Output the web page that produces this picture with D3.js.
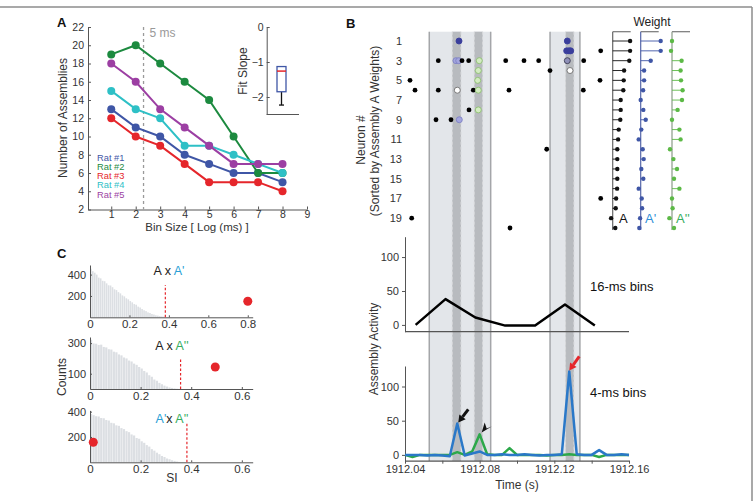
<!DOCTYPE html>
<html><head><meta charset="utf-8">
<script src="https://cdn.jsdelivr.net/npm/d3@7"></script>
<style>
body{margin:0;background:#fff;}
svg{display:block;}
</style></head><body>
<svg id="c" width="754" height="501"></svg>
<script>
// ================= DATA =================
// Panel A
const binSizes = [1,2,3,4,5,6,7,8];
const ratNames = ["Rat #1","Rat #2","Rat #3","Rat #4","Rat #5"];
const ratColors = ["#3f56a6","#1c8a3f","#e5262b","#2ec0c6","#9c3fa3"];
const rat1 = [13,11,10,8,7,6,6,5];
const rat2 = [19,20,18,16,14,10,6,6];
const rat3 = [12,10,9,7,5,5,5,4];
const rat4 = [15,13,12,9,9,8,7,6];
const rat5 = [18,16,13,11,9,7,7,7];
const xTicksA = [1,2,3,4,5,6,7,8,9];
const yTicksA = [2,4,6,8,10,12,14,16,18,20,22];
const cutoffBin = 2.32;          // "5 ms"
// inset: fit slope box plot [whiskerLow, q1, median, q3, whiskerHigh]
const slopeStats = [-2.23,-1.85,-1.26,-1.13,-1.13];
const slopeTicks = [0,-1,-2];

// Panel B raster
const neuronTickLabels = [1,3,5,7,9,11,13,15,17,19];
const spikeRows  = [1,1, 2,2,2,2, 3,3,3,3,3,3,3,3,3,3,3, 4,4,4, 5,5,5, 6,6,6,6,6,6,6, 8,8, 9,9,9, 12, 17, 19, 20];
const spikeTimes = [1912.06893,1912.12695,
  1912.12662,1912.12786,1912.12877,1912.14484,
  1912.05784,1912.06732,1912.06877,1912.07054,1912.07412,1912.07980,1912.09395,1912.10375,1912.11162,1912.12695,1912.13573,
  1912.07927,1912.11768,1912.12839,
  1912.04268,1912.07895,1912.14446,
  1912.04536,1912.05784,1912.06802,1912.07659,1912.07927,1912.09571,1912.13552,
  1912.07429,1912.07927,
  1912.05661,1912.06464,1912.06909,
  1912.11591, 1912.14484, 1912.04359, 1912.09625];
const spikeKinds = ["b","b", "b","b","b","k", "k","l","l","k","k","g","k","k","k","p","k",
  "g","k","w", "k","g","k", "k","k","w","k","g","k","k", "k","g", "k","k","l", "k","k","k","k"];
const lightBands = [[1912.0530,1912.0859],[1912.1177,1912.1337]];
const darkBands  = [[1912.0653,1912.0700],[1912.0771,1912.0816],[1912.1260,1912.1305]];

// Panel B weights (20 neurons)
const weightLabels = ["A","A'","A''"];
const weightA   = [.87,.87,.83,.57,.55,.53,.40,.40,.38,.30,.27,.23,.23,.23,.23,.22,.17,.15,-.08,.13];
const weightA1  = [1.0,1.0,.50,.17,.17,.12,0,.13,.25,.03,-.10,.10,.15,.03,.13,-.10,.05,.07,-.03,-.07];
const weightA2  = [0,-.05,.48,.43,.45,.53,.50,.28,0,.37,.43,-.10,.07,.25,.10,.37,0,.03,-.13,.10];

// Panel B activity
const times16 = [1912.0457,1912.0617,1912.0777,1912.0937,1912.1097,1912.1257,1912.1417];
const act16   = [0,38,11,-1,-1,30,-1];
const times4  = [1912.040,1912.044,1912.048,1912.052,1912.056,1912.060,1912.064,1912.068,1912.072,1912.076,
                 1912.080,1912.084,1912.088,1912.092,1912.096,1912.100,1912.104,1912.108,1912.112,1912.116,
                 1912.120,1912.124,1912.128,1912.132,1912.136,1912.140,1912.144,1912.148,1912.152,1912.156,1912.160];
const actBlue4  = [0,0,0,-1,0,-1,-2,46,-1,2,5,0,0,1,0,0,1,0,-1,0,0,1,122,1,0,0,7,0,0,1,0];
const actGreen4 = [0,-3,0,0,0,0,0,4,0,5,30,1,0,0,10,0,0,0,0,-1,0,0,1,0,0,0,-3,0,0,0,0];
const activityTicks = [0,50,100];
const timeTicks = [1912.04,1912.06,1912.08,1912.10,1912.12,1912.14,1912.16];

// Panel C histograms (bin width 0.01, starting at 0)
const histBin = 0.01;
const histAA1 = [455,432,418,400,372,365,342,338,318,300,298,282,262,255,236,224,205,196,178,168,152,140,124,118,100,92,78,66,58,46,40,31,26,19,16,11,8,6,4,3,2,1,1];
const histAA2 = [322,298,296,288,290,275,272,260,258,244,240,226,220,206,200,186,180,166,158,144,134,118,108,90,80,62,54,40,31,22,16,10,7,4,2,1];
const histA1A2 = [382,372,364,362,350,348,334,330,312,308,292,288,270,262,246,238,220,212,192,186,166,154,136,124,104,92,76,64,50,42,30,24,16,11,6,3,2,1];
const siThresholds = [0.382,0.358,0.383];
const siThresholdTop = [303,200,321];
const siObserved   = [0.80,0.495,0.013];
const siObsCounts  = [150,144,158];
const cTicksX1 = [0,0.2,0.4,0.6,0.8];
const cTicksX2 = [0,0.2,0.4,0.6];
const cTicksY1 = [200,400];
const cTicksY2 = [100,300];
const cTicksY3 = [200,400];

// ================= DRAWING =================
const FONT = "'Liberation Sans', Arial, Helvetica, sans-serif";
const svg = d3.select("#c").attr("font-family", FONT);
const AX = "#555", TX = "#333";

function styleAxis(g, fs){
  g.attr("font-family", FONT).attr("font-size", fs || 11);
  g.select(".domain").attr("stroke", AX).attr("stroke-width", 1);
  g.selectAll(".tick line").attr("stroke", AX);
  g.selectAll(".tick text").attr("fill", TX);
  return g;
}
function text(x, y, s, o){
  o = o || {};
  const t = svg.append("text").attr("x", x).attr("y", y).text(s)
    .attr("font-size", o.fs || 11).attr("fill", o.fill || TX)
    .attr("text-anchor", o.anchor || "start");
  if (o.bold) t.attr("font-weight", "bold");
  if (o.rot) t.attr("transform", `rotate(-90,${x},${y})`);
  return t;
}

// frame
svg.append("line").attr("x1",0).attr("x2",752).attr("y1",7).attr("y2",7).attr("stroke","#8c8c8c").attr("stroke-width",1.5);
svg.append("line").attr("x1",752).attr("x2",752).attr("y1",7).attr("y2",501).attr("stroke","#8c8c8c").attr("stroke-width",1.5);

// panel letters
text(57, 27, "A", {fs:13, bold:true, fill:"#111"});
text(346, 28, "B", {fs:13, bold:true, fill:"#111"});
text(57, 258, "C", {fs:13, bold:true, fill:"#111"});

// ---------- Panel A ----------
const xA = d3.scaleLinear().domain([0.05, 9]).range([88, 307]);
const yA = d3.scaleLinear().domain([2, 22]).range([209.5, 27]);
styleAxis(svg.append("g").attr("transform","translate(0,209.5)")
  .call(d3.axisBottom(xA).tickValues(xTicksA).tickSizeInner(-3).tickSizeOuter(0).tickPadding(1.5)), 10.5);
styleAxis(svg.append("g").attr("transform","translate(88,0)")
  .call(d3.axisLeft(yA).tickValues(yTicksA).tickSizeInner(-3).tickSizeOuter(0).tickPadding(4)), 10.5);
text(197, 231, "Bin Size [ Log (ms) ]", {fs:11.5, anchor:"middle"});
text(67, 118, "Number of Assemblies", {fs:12, anchor:"middle", rot:true});

svg.append("line").attr("x1", xA(cutoffBin)).attr("x2", xA(cutoffBin))
  .attr("y1", yA(22)).attr("y2", yA(2)).attr("stroke","#9a9a9a").attr("stroke-width",1.3).attr("stroke-dasharray","3,3");
text(xA(cutoffBin)+6, 37, "5 ms", {fs:12, fill:"#999"});

const rats = [rat1, rat2, rat3, rat4, rat5];
const lineA = d3.line().x((d,i) => xA(binSizes[i])).y(d => yA(d));
rats.forEach((vals, k) => {
  const g = svg.append("g");
  g.append("path").attr("d", lineA(vals)).attr("fill","none").attr("stroke", ratColors[k]).attr("stroke-width", 2);
  g.selectAll("circle").data(vals).join("circle")
    .attr("cx", (d,i) => xA(binSizes[i])).attr("cy", d => yA(d)).attr("r", 4).attr("fill", ratColors[k]);
});
ratNames.forEach((n, k) => text(97, 160.5 + k*9.3, n, {fs:9.3, fill: ratColors[k]}));

// inset
const yI = d3.scaleLinear().domain([-2.5, 0]).range([114.5, 27]);
styleAxis(svg.append("g").attr("transform","translate(266.7,0)")
  .call(d3.axisLeft(yI).tickValues(slopeTicks).tickFormat(d3.format("d")).tickSizeInner(-3).tickSizeOuter(0).tickPadding(3)), 10.5);
svg.append("line").attr("x1",266.7).attr("x2",299).attr("y1",114.5).attr("y2",114.5).attr("stroke",AX);
text(247, 71, "Fit Slope", {fs:12, anchor:"middle", rot:true});
const bx = 281.5, bw = 9;
svg.append("line").attr("x1",bx).attr("x2",bx).attr("y1",yI(slopeStats[1])).attr("y2",yI(slopeStats[0])).attr("stroke","#111").attr("stroke-width",1.3);
svg.append("line").attr("x1",bx-2.5).attr("x2",bx+2.5).attr("y1",yI(slopeStats[0])).attr("y2",yI(slopeStats[0])).attr("stroke","#111").attr("stroke-width",1.3);
svg.append("rect").attr("x",bx-bw/2).attr("width",bw).attr("y",yI(slopeStats[3])).attr("height",yI(slopeStats[1])-yI(slopeStats[3]))
  .attr("fill","#fff").attr("stroke","#3f56a6").attr("stroke-width",1.3);
svg.append("line").attr("x1",bx-bw/2).attr("x2",bx+bw/2).attr("y1",yI(slopeStats[2])).attr("y2",yI(slopeStats[2])).attr("stroke","#e5262b").attr("stroke-width",1.5);

// ---------- Panel B ----------
const xT = d3.scaleLinear().domain([1912.04, 1912.16]).range([405, 629]);
const yRow = d3.scaleLinear().domain([1, 20]).range([41, 228]);
const bandTop = 31.7, bandBot = 461;

svg.append("g").selectAll("rect").data(lightBands).join("rect")
  .attr("x", d => xT(d[0])).attr("width", d => xT(d[1]) - xT(d[0]))
  .attr("y", bandTop).attr("height", bandBot - bandTop).attr("fill", "#e3e6ea");
lightBands.forEach(d => d.forEach(t => {
  svg.append("line").attr("x1", xT(t)).attr("x2", xT(t)).attr("y1", bandTop).attr("y2", bandBot).attr("stroke", "#a4a6a9").attr("stroke-width", 1.5);
}));
svg.append("g").selectAll("rect").data(darkBands).join("rect")
  .attr("x", d => xT(d[0])).attr("width", d => xT(d[1]) - xT(d[0]))
  .attr("y", bandTop).attr("height", bandBot - bandTop).attr("fill", "#b8bbbf");
darkBands.forEach(d => d.forEach(t => {
  svg.append("line").attr("x1", xT(t)).attr("x2", xT(t)).attr("y1", bandTop).attr("y2", bandBot).attr("stroke", "#d8d9db").attr("stroke-width", 1).attr("stroke-dasharray", "3,2");
}));

// neuron labels
neuronTickLabels.forEach(n => text(402, yRow(n) + 4, String(n), {fs:11, anchor:"end"}));
text(365, 140, "Neuron #", {fs:12, anchor:"middle", rot:true});
text(379, 131, "(Sorted by Assembly A Weights)", {fs:12, anchor:"middle", rot:true});

const kindStyle = {
  k: {r:2.4, fill:"#000", stroke:"none"},
  b: {r:3, fill:"#3a3e9c", stroke:"#3a3e9c"},
  l: {r:3, fill:"#a3a5de", stroke:"#7f82c4"},
  p: {r:3, fill:"#8f90b8", stroke:"#3d3d55"},
  w: {r:3, fill:"#ffffff", stroke:"#6f6f6f"},
  g: {r:3, fill:"#d3ebc2", stroke:"#8dc170"}
};
svg.append("g").selectAll("circle").data(spikeTimes).join("circle")
  .attr("cx", d => xT(d)).attr("cy", (d,i) => yRow(spikeRows[i]))
  .attr("r", (d,i) => kindStyle[spikeKinds[i]].r)
  .attr("fill", (d,i) => kindStyle[spikeKinds[i]].fill)
  .attr("stroke", (d,i) => kindStyle[spikeKinds[i]].stroke)
  .attr("stroke-width", 0.9);

// weights
const wScale = d3.scaleLinear().domain([0, 1]).range([0, 20]);
const wBase = [612.7, 640.7, 672];
const wCols = ["#111111", "#3f56a6", "#5cb946"];
const wBaseCols = ["#666", "#5565a8", "#8a9a88"];
const wLabCols = ["#111111", "#2f8fd8", "#36ad60"];
[weightA, weightA1, weightA2].forEach((ws, k) => {
  const g = svg.append("g");
  const x0 = wBase[k];
  g.append("line").attr("x1", x0).attr("x2", x0 + 18).attr("y1", bandTop).attr("y2", bandTop).attr("stroke", "#777").attr("stroke-width", 1.2);
  g.append("line").attr("x1", x0).attr("x2", x0).attr("y1", bandTop).attr("y2", 230).attr("stroke", wBaseCols[k]).attr("stroke-width", 1.2);
  g.selectAll("line.s").data(ws).join("line").attr("class","s")
    .attr("x1", x0).attr("x2", d => x0 + wScale(d))
    .attr("y1", (d,i) => yRow(i+1)).attr("y2", (d,i) => yRow(i+1))
    .attr("stroke", wCols[k]).attr("stroke-width", 0.9);
  g.selectAll("circle").data(ws).join("circle")
    .attr("cx", d => x0 + wScale(d)).attr("cy", (d,i) => yRow(i+1)).attr("r", 2.2).attr("fill", wCols[k]);
});
text(619, yRow(19) + 5, weightLabels[0], {fs:13, fill: wLabCols[0]});
text(645, yRow(19) + 5, weightLabels[1], {fs:13, fill: wLabCols[1]});
text(676, yRow(19) + 5, weightLabels[2], {fs:13, fill: wLabCols[2]});
text(652, 26, "Weight", {fs:12, anchor:"middle", fill:"#222"});

// 16-ms activity
const y16 = d3.scaleLinear().domain([-10, 130]).range([331.7, 236.7]);
styleAxis(svg.append("g").attr("transform","translate(405,0)")
  .call(d3.axisLeft(y16).tickValues(activityTicks).tickSizeInner(3).tickSizeOuter(0).tickPadding(3)));
svg.append("line").attr("x1",405).attr("x2",629).attr("y1",331.7).attr("y2",331.7).attr("stroke",AX).attr("stroke-width",1.2);
svg.append("path").datum(act16)
  .attr("d", d3.line().x((d,i) => xT(times16[i])).y(d => y16(d)))
  .attr("fill","none").attr("stroke","#000").attr("stroke-width",2.5).attr("stroke-linejoin","round");
text(590, 291, "16-ms bins", {fs:13, fill:"#111"});

// 4-ms activity
const y4 = d3.scaleLinear().domain([-8.5, 130]).range([460.7, 366]);
styleAxis(svg.append("g").attr("transform","translate(405,0)")
  .call(d3.axisLeft(y4).tickValues(activityTicks).tickSizeInner(3).tickSizeOuter(0).tickPadding(3)));
const gx = styleAxis(svg.append("g").attr("transform","translate(0,460.7)")
  .call(d3.axisBottom(xT).tickValues(timeTicks).tickSizeInner(3).tickSizeOuter(0).tickPadding(2)
    .tickFormat((d,i) => i % 2 === 0 ? d.toFixed(2) : "")));
gx.select(".domain").attr("stroke-width",1.2);
const line4 = d3.line().x((d,i) => xT(times4[i])).y(d => y4(d));
svg.append("path").datum(actGreen4).attr("d", line4).attr("fill","none").attr("stroke","#2ca84a").attr("stroke-width",2.5).attr("stroke-linejoin","round");
svg.append("path").datum(actBlue4).attr("d", line4).attr("fill","none").attr("stroke","#2a78c8").attr("stroke-width",2.5).attr("stroke-linejoin","round");
text(590, 397, "4-ms bins", {fs:13, fill:"#111"});
text(517, 489, "Time (s)", {fs:12, anchor:"middle"});
text(378, 349, "Assembly Activity", {fs:12, anchor:"middle", rot:true});

// arrows anchored to peaks
function arrow(tx, ty, dx, dy, color){
  const len = Math.hypot(dx, dy), ux = dx/len, uy = dy/len;
  const hx = tx + ux*7, hy = ty + uy*7;
  svg.append("line").attr("x1", tx + dx).attr("y1", ty + dy).attr("x2", hx).attr("y2", hy)
    .attr("stroke", color).attr("stroke-width", 3);
  const px = -uy, py = ux;
  svg.append("path").attr("d", `M${tx},${ty}L${hx+px*4},${hy+py*4}L${hx-px*4},${hy-py*4}Z`).attr("fill", color);
}
const iB = actBlue4.indexOf(d3.max(actBlue4));
arrow(xT(times4[iB]), y4(actBlue4[iB]) - 1, 10, -14, "#e5262b");
const iB2 = 7;
arrow(xT(times4[iB2]) + 1, y4(actBlue4[iB2]) - 1, 10, -13, "#111");
const iG = actGreen4.indexOf(d3.max(actGreen4));
{
  const tx = xT(times4[iG]) + 2, ty = y4(actGreen4[iG]) - 2;
  svg.append("path").attr("d", `M${tx},${ty}L${tx+10},${ty-6}L${tx+5},${ty-4}L${tx+3},${ty-10}Z`).attr("fill","#111");
}

// ---------- Panel C ----------
const hists = [histAA1, histAA2, histA1A2];
const cfg = [
  {x:[0,0.825], y:[0,490], yr:[317.3,265], xt:cTicksX1, yt:cTicksY1},
  {x:[0,0.643], y:[0,340], yr:[389,337], xt:cTicksX2, yt:cTicksY2},
  {x:[0,0.643], y:[0,410], yr:[462.3,410.4], xt:cTicksX2, yt:cTicksY3}
];
hists.forEach((h, k) => {
  const c = cfg[k];
  const xs = d3.scaleLinear().domain(c.x).range([90, 252.7]);
  const ys = d3.scaleLinear().domain(c.y).range(c.yr);
  const g = svg.append("g");
  g.selectAll("rect").data(h).join("rect")
    .attr("x", (d,i) => xs(i*histBin)).attr("width", xs(histBin) - xs(0) - 0.35)
    .attr("y", d => ys(d)).attr("height", d => ys(0) - ys(d)).attr("fill", "#dcdfe3");
  styleAxis(svg.append("g").attr("transform", `translate(0,${c.yr[0]})`)
    .call(d3.axisBottom(xs).tickValues(c.xt).tickSizeInner(-2).tickSizeOuter(0).tickPadding(3).tickFormat(d => d === 0 ? "0" : d3.format(".1f")(d))), 11.5);
  styleAxis(svg.append("g").attr("transform", "translate(90,0)")
    .call(d3.axisLeft(ys).tickValues(c.yt).tickSizeInner(-2).tickSizeOuter(0).tickPadding(4)), 11);
  svg.append("line").attr("x1", xs(siThresholds[k])).attr("x2", xs(siThresholds[k]))
    .attr("y1", ys(0)).attr("y2", ys(siThresholdTop[k]))
    .attr("stroke", "#e5262b").attr("stroke-width", 1.2).attr("stroke-dasharray", "2.5,2");
  svg.append("circle").attr("cx", xs(siObserved[k])).attr("cy", ys(siObsCounts[k])).attr("r", 4.5).attr("fill", "#e5262b");
});
function title(x, y, parts){
  const t = svg.append("text").attr("x", x).attr("y", y).attr("font-size", 12.5).attr("text-anchor","middle");
  parts.forEach(p => t.append("tspan").attr("fill", p[1]).text(p[0]));
}
title(169, 275, [["A x ", "#222"], ["A'", "#2a9fd6"]]);
title(172, 350, [["A x ", "#222"], ["A''", "#36ad60"]]);
title(172, 423, [["A'", "#2a9fd6"], ["x ", "#222"], ["A''", "#36ad60"]]);
text(172, 482, "SI", {fs:12, anchor:"middle"});
text(66, 377, "Counts", {fs:12, anchor:"middle", rot:true});
</script>
</body></html>
